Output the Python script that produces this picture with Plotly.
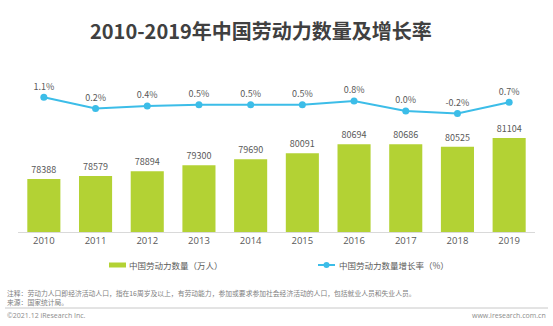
import plotly.graph_objects as go

years = ["2010", "2011", "2012", "2013", "2014", "2015", "2016", "2017", "2018", "2019"]
labor = [78388, 78579, 78894, 79300, 79690, 80091, 80694, 80686, 80525, 81104]
growth = [1.1, 0.2, 0.4, 0.5, 0.5, 0.5, 0.8, 0.0, -0.2, 0.7]

title = "2010-2019年中国劳动力数量及增长率"
bar_name = "中国劳动力数量（万人）"
line_name = "中国劳动力数量增长率（%）"
note1 = "注释：劳动力人口即经济活动人口，指在16周岁及以上，有劳动能力，参加或要求参加社会经济活动的人口，包括就业人员和失业人员。"
note2 = "来源：国家统计局。"
copy_l = "©2021.12 iResearch Inc."
copy_r = "www.iresearch.com.cn"

GREEN = "#B3D234"
BLUE = "#3CBDE8"
TXT = "#595959"
FONT = "Noto Sans CJK SC"

W, H = 553, 326
L, R, T, B = 18, 18, 80, 94
pw, ph = W - L - R, H - T - B


def px(x):
    return (x - L) / pw


def py(y):
    return (H - B - y) / ph


fig = go.Figure()
fig.add_trace(go.Bar(
    x=years, y=labor, name=bar_name, marker=dict(color=GREEN, line=dict(width=0)),
    text=[str(v) for v in labor], textposition="outside",
    textfont=dict(size=9, color=TXT, family=FONT), cliponaxis=False,
))
fig.add_trace(go.Scatter(
    x=years, y=growth, name=line_name, yaxis="y2", mode="lines+markers+text",
    line=dict(color=BLUE, width=2), marker=dict(color=BLUE, size=7),
    text=[f"{v:.1f}%" for v in growth], textposition="top center",
    textfont=dict(size=9, color=TXT, family=FONT), cliponaxis=False,
))

shapes = [
    dict(type="rect", xref="paper", yref="paper", x0=px(109), x1=px(126), y0=py(267.5), y1=py(262.5),
         fillcolor=GREEN, line=dict(width=0)),
    dict(type="line", xref="paper", yref="paper", x0=px(318), x1=px(335), y0=py(265), y1=py(265),
         line=dict(color=BLUE, width=2)),
    dict(type="circle", xref="paper", yref="paper", x0=px(323.5), x1=px(329.5), y0=py(268), y1=py(262),
         fillcolor=BLUE, line=dict(width=0)),
    dict(type="line", xref="paper", yref="paper", x0=px(5), x1=px(548), y0=py(308), y1=py(308),
         line=dict(color="#C8C8C8", width=1)),
]

annotations = [
    dict(text=f"<b>{title}</b>", xref="paper", yref="paper", x=px(261), y=py(30), xanchor="center",
         yanchor="middle", showarrow=False, font=dict(size=20, color="#404040", family=FONT)),
    dict(text=bar_name, xref="paper", yref="paper", x=px(127), y=py(265), xanchor="left", yanchor="middle",
         showarrow=False, font=dict(size=8.5, color=TXT, family=FONT)),
    dict(text=line_name, xref="paper", yref="paper", x=px(337), y=py(265), xanchor="left", yanchor="middle",
         showarrow=False, font=dict(size=8.5, color=TXT, family=FONT)),
    dict(text=note1 + "<br>" + note2, xref="paper", yref="paper", x=px(5), y=py(297), xanchor="left",
         yanchor="middle", align="left", showarrow=False,
         font=dict(size=6.8, color="#808080", family=FONT)),
    dict(text=copy_l, xref="paper", yref="paper", x=px(5), y=py(315), xanchor="left", yanchor="middle",
         showarrow=False, font=dict(size=7, color="#8C8C8C", family="Open Sans")),
    dict(text=copy_r, xref="paper", yref="paper", x=px(548), y=py(315), xanchor="right", yanchor="middle",
         showarrow=False, font=dict(size=7, color="#8C8C8C", family="Open Sans")),
]

fig.update_layout(
    width=W, height=H, margin=dict(l=L, r=R, t=T, b=B),
    paper_bgcolor="white", plot_bgcolor="white", showlegend=False,
    bargap=0.36, font=dict(family=FONT, color=TXT),
    xaxis=dict(type="category", range=[-0.5, 9.5], showline=True, linecolor="#D9D9D9", linewidth=1,
               showgrid=False, ticks="", tickfont=dict(size=9.5, color=TXT, family="Open Sans")),
    yaxis=dict(range=[74879, 84941], visible=False, showgrid=False),
    yaxis2=dict(range=[-9.68, 2.48], overlaying="y", visible=False, showgrid=False),
    shapes=shapes, annotations=annotations,
)

fig.write_html("out.html")
